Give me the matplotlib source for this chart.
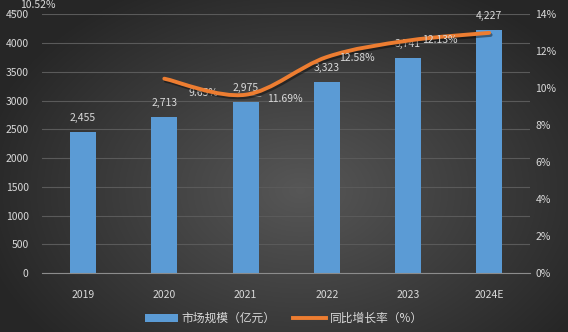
import numpy as np
import matplotlib
matplotlib.use("Agg")
import matplotlib.pyplot as plt
from matplotlib.path import Path
from matplotlib.patches import PathPatch, Patch
from matplotlib.lines import Line2D
import matplotlib.patheffects as pe

plt.rcParams['font.family'] = ['Noto Sans CJK SC', 'DejaVu Sans']

# datos
anios = ["2019", "2020", "2021", "2022", "2023", "2024E"]
mercado = [2455, 2713, 2975, 3323, 3741, 4227]
crecimiento = [None, 10.52, 9.65, 11.69, 12.58, 13.0]
etiquetas_crec = ["10.52%", "9.65%", "11.69%", "12.58%", "12.13%"]

texto = "#d9d9d9"
azul = "#5b9bd5"
naranja = "#ed7d31"

fig = plt.figure(figsize=(5.68, 3.32), dpi=100)

# fondo con degradado radial
fondo = fig.add_axes([0, 0, 1, 1])
yy, xx = np.mgrid[0:332, 0:568]
d = np.sqrt(((xx - 300) / 330.0) ** 2 + ((yy - 190) / 230.0) ** 2)
d = np.clip(d, 0, 1)
gris = 0.34 - 0.19 * d
fondo.imshow(np.dstack([gris, gris, gris]), aspect="auto", extent=[0, 1, 0, 1])
fondo.set_axis_off()

ax = fig.add_axes([0.0748, 0.1777, 0.858, 0.779])
ax.patch.set_alpha(0)
x = np.arange(len(anios))

ax.bar(x, mercado, width=0.32, color=azul, zorder=2)
for xi, v in zip(x, mercado):
    ax.text(xi, v + 250, f"{v:,}", ha="center", va="center", color=texto, fontsize=7.5, zorder=5)

ax.set_xlim(-0.5, len(anios) - 0.5)
ax.set_ylim(0, 4500)
ticks_izq = list(range(0, 4501, 500))
ax.set_yticks(ticks_izq)
ax.set_yticklabels([str(t) for t in ticks_izq])
ax.set_xticks(x)
ax.set_xticklabels(anios)
ax.tick_params(axis="both", length=0, colors=texto, labelsize=7.5)
ax.tick_params(axis="x", pad=12)
ax.tick_params(axis="y", pad=10)
ax.grid(axis="y", color="#5a5a5a", linewidth=0.8, zorder=0)
for s in ["top", "right", "left"]:
    ax.spines[s].set_visible(False)
ax.spines["bottom"].set_color("#8c8c8c")

ax2 = ax.twinx()
ax2.set_ylim(0, 14)
ax2.set_yticks(range(0, 15, 2))
ax2.set_yticklabels([f"{t}%" for t in range(0, 15, 2)])
ax2.tick_params(axis="y", length=0, colors=texto, labelsize=7.5, pad=4)
for s in ax2.spines.values():
    s.set_visible(False)

# línea suavizada (curvas de Bezier entre los puntos)
px = x[1:].astype(float)
py = np.array(crecimiento[1:], dtype=float)
verts = [(px[0], py[0])]
codes = [Path.MOVETO]
n = len(px)
for i in range(n - 1):
    p0 = (px[max(i - 1, 0)], py[max(i - 1, 0)])
    p1 = (px[i], py[i])
    p2 = (px[i + 1], py[i + 1])
    p3 = (px[min(i + 2, n - 1)], py[min(i + 2, n - 1)])
    c1 = (p1[0] + (p2[0] - p0[0]) / 6, p1[1] + (p2[1] - p0[1]) / 6)
    c2 = (p2[0] - (p3[0] - p1[0]) / 6, p2[1] - (p3[1] - p1[1]) / 6)
    verts += [c1, c2, p2]
    codes += [Path.CURVE4, Path.CURVE4, Path.CURVE4]
linea = PathPatch(Path(verts, codes), facecolor="none", edgecolor=naranja, linewidth=2.8,
                  capstyle="round", zorder=4,
                  path_effects=[pe.SimpleLineShadow(offset=(1, -1.5), alpha=0.4), pe.Normal()])
ax2.add_patch(linea)

# etiquetas de la línea (tal como aparecen, desplazadas)
ax2.annotate(etiquetas_crec[0], xy=(-0.93, 14.05), xytext=(-0.77, 14.5), color=texto, fontsize=7.5,
             ha="left", va="center", annotation_clip=False,
             arrowprops=dict(arrowstyle="-", color="#a0a0a0", lw=0.5, shrinkA=0, shrinkB=0))
ax2.annotate(etiquetas_crec[1], xy=(px[0], py[0]), xytext=(1.3, 9.75), color=texto, fontsize=7.5,
             ha="left", va="center",
             arrowprops=dict(arrowstyle="-", color="#a0a0a0", lw=0.5))
ax2.annotate(etiquetas_crec[2], xy=(px[1], py[1]), xytext=(2.26, 9.4), color=texto, fontsize=7.5,
             ha="left", va="center",
             arrowprops=dict(arrowstyle="-", color="#a0a0a0", lw=0.5))
ax2.text(3.15, 11.65, etiquetas_crec[3], color=texto, fontsize=7.5, ha="left", va="center", zorder=5)
ax2.text(4.17, 12.6, etiquetas_crec[4], color=texto, fontsize=7.5, ha="left", va="center", zorder=5)

# leyenda
manejadores = [Patch(facecolor=azul), Line2D([0], [0], color=naranja, lw=2.8)]
fig.legend(manejadores, ["市场规模（亿元）", "同比增长率（%）"], loc="center", bbox_to_anchor=(0.5, 0.04),
           ncol=2, frameon=False, fontsize=8.5, labelcolor=texto, handlelength=2.8,
           handleheight=0.6, columnspacing=1.5, handletextpad=0.3)

plt.savefig("out.png", dpi=100)
